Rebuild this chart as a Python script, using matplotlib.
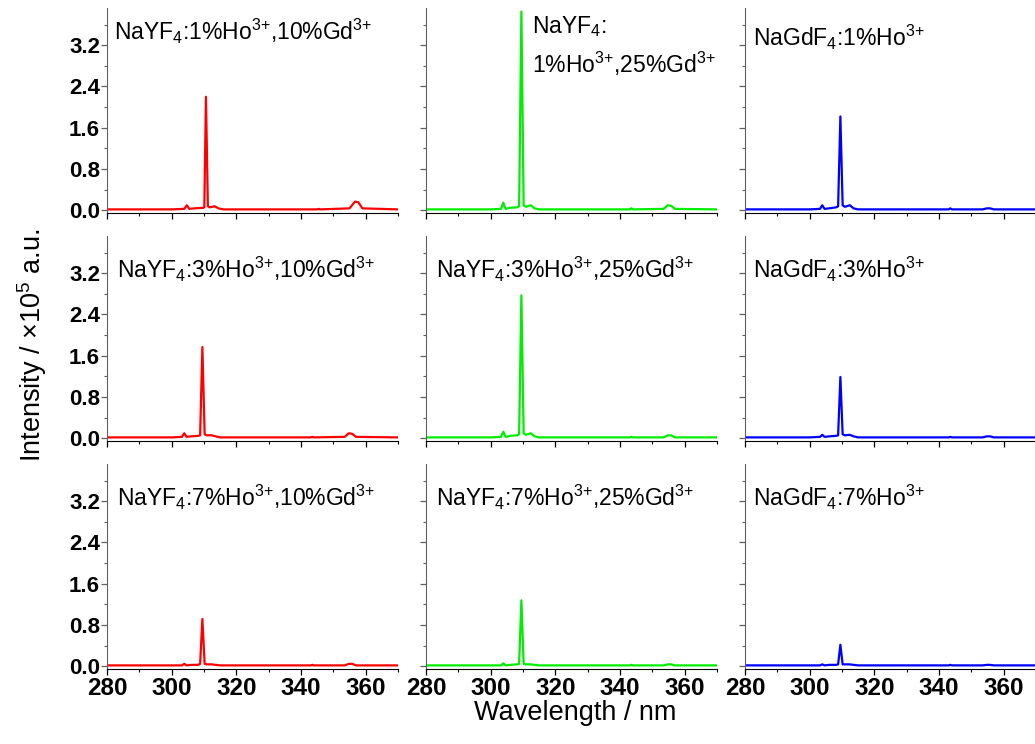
import matplotlib
matplotlib.use('Agg')
import matplotlib.pyplot as plt
from matplotlib.ticker import MultipleLocator, FormatStrFormatter

plt.rcParams['font.family'] = ['Liberation Sans', 'DejaVu Sans']
plt.rcParams['mathtext.fontset'] = 'custom'
plt.rcParams['mathtext.rm'] = 'Liberation Sans'
plt.rcParams['mathtext.it'] = 'Liberation Sans:italic'
plt.rcParams['mathtext.bf'] = 'Liberation Sans:bold'

# wavelength points (nm)
wl = [280, 300, 303.2, 303.9, 304.6, 306, 308.2, 308.8, 309.5, 310.2, 310.9,
      312.4, 313.6, 315, 330, 343, 343.5, 344, 353.5, 354.8, 355.8, 357, 370]
# first panel is slightly shifted
wl_a = [280, 300, 303.9, 304.7, 305.4, 307, 309.7, 310.1, 310.6, 311.2, 311.8,
        313.3, 314.5, 316, 330, 345, 345.5, 346, 355, 356.7, 357.7, 359, 370]

# intensities (x1e5 a.u.), rows = Ho 1/3/7 %, cols = 10%Gd, 25%Gd, NaGdF4
y_1_10 = [0.02, 0.02, 0.03, 0.10, 0.03, 0.04, 0.05, 0.06, 2.20, 0.08, 0.06,
          0.08, 0.04, 0.02, 0.02, 0.02, 0.03, 0.02, 0.04, 0.17, 0.16, 0.04, 0.02]
y_1_25 = [0.02, 0.02, 0.03, 0.15, 0.03, 0.05, 0.06, 0.08, 3.85, 0.10, 0.07,
          0.10, 0.04, 0.02, 0.02, 0.02, 0.04, 0.02, 0.03, 0.10, 0.09, 0.03, 0.02]
y_1_gd = [0.02, 0.02, 0.03, 0.10, 0.03, 0.04, 0.06, 0.08, 1.82, 0.10, 0.07,
          0.10, 0.04, 0.02, 0.02, 0.02, 0.04, 0.02, 0.02, 0.04, 0.04, 0.02, 0.02]
y_3_10 = [0.02, 0.02, 0.03, 0.10, 0.03, 0.04, 0.05, 0.06, 1.77, 0.08, 0.06,
          0.06, 0.04, 0.02, 0.02, 0.02, 0.03, 0.02, 0.03, 0.10, 0.09, 0.03, 0.02]
y_3_25 = [0.02, 0.02, 0.03, 0.13, 0.03, 0.05, 0.06, 0.08, 2.77, 0.10, 0.07,
          0.10, 0.04, 0.02, 0.02, 0.02, 0.03, 0.02, 0.02, 0.06, 0.06, 0.02, 0.02]
y_3_gd = [0.02, 0.02, 0.03, 0.07, 0.03, 0.04, 0.05, 0.06, 1.19, 0.08, 0.06,
          0.07, 0.04, 0.02, 0.02, 0.02, 0.03, 0.02, 0.02, 0.04, 0.04, 0.02, 0.02]
y_7_10 = [0.02, 0.02, 0.02, 0.05, 0.02, 0.03, 0.03, 0.05, 0.92, 0.05, 0.04,
          0.04, 0.03, 0.02, 0.02, 0.02, 0.03, 0.02, 0.02, 0.05, 0.05, 0.02, 0.02]
y_7_25 = [0.02, 0.02, 0.02, 0.06, 0.02, 0.03, 0.04, 0.05, 1.28, 0.05, 0.04,
          0.04, 0.03, 0.02, 0.02, 0.02, 0.03, 0.02, 0.02, 0.04, 0.04, 0.02, 0.02]
y_7_gd = [0.02, 0.02, 0.02, 0.04, 0.02, 0.03, 0.03, 0.04, 0.42, 0.04, 0.04,
          0.04, 0.03, 0.02, 0.02, 0.02, 0.03, 0.02, 0.02, 0.03, 0.03, 0.02, 0.02]

spectra = [[y_1_10, y_1_25, y_1_gd],
           [y_3_10, y_3_25, y_3_gd],
           [y_7_10, y_7_25, y_7_gd]]
colors = ['#ff0000', '#00ee00', '#0000ff']
ho = ['1', '3', '7']
SUP = r'$^{\text{3+}}$'

fig = plt.figure(figsize=(10.35, 7.44), dpi=100)
W, H = 1035.0, 744.0
lefts = [107, 426, 745]
bottoms = [213, 441, 669]
aw, ah = 291, 205
fs = 16.5

for r in range(3):
    for c in range(3):
        ax = fig.add_axes([lefts[c] / W, 1 - bottoms[r] / H, aw / W, ah / H])
        x = wl_a if (r == 0 and c == 0) else wl
        ax.plot(x, spectra[r][c], color=colors[c], lw=1.6)
        ax.set_xlim(280, 370)
        ax.set_ylim(-0.05, 3.92)
        ax.spines['top'].set_visible(False)
        ax.spines['right'].set_visible(False)
        ax.spines['left'].set_color('#606060')
        ax.xaxis.set_major_locator(MultipleLocator(20))
        ax.xaxis.set_minor_locator(MultipleLocator(10))
        ax.yaxis.set_major_locator(MultipleLocator(0.8))
        ax.yaxis.set_minor_locator(MultipleLocator(0.4))
        ax.yaxis.set_major_formatter(FormatStrFormatter('%.1f'))
        ax.tick_params(axis='both', which='major', direction='out', length=4, width=0.9)
        ax.tick_params(axis='both', which='minor', direction='out', length=2.2, width=0.8)
        ax.tick_params(axis='y', which='both', color='#606060', pad=1)
        ax.tick_params(axis='x', pad=2)
        if c != 0:
            ax.tick_params(axis='y', labelleft=False)
        if r != 2:
            ax.tick_params(axis='x', labelbottom=False)
        for lab in ax.get_yticklabels():
            lab.set_fontsize(16)
            lab.set_fontweight('bold')
        for lab in ax.get_xticklabels():
            lab.set_fontsize(17.5)
            lab.set_fontweight('bold')

        ty = 0.955 if r == 0 else 0.91
        if c == 0:
            ax.text(0.025 if r == 0 else 0.034, ty,
                    'NaYF$_4$:' + ho[r] + '%Ho' + SUP + ',10%Gd' + SUP,
                    transform=ax.transAxes, fontsize=fs, va='top', ha='left')
        elif c == 1:
            if r == 0:
                ax.text(0.364, 0.968, 'NaYF$_4$:', transform=ax.transAxes,
                        fontsize=fs, va='top', ha='left')
                ax.text(0.364, 0.795, '1%Ho' + SUP + ',25%Gd' + SUP,
                        transform=ax.transAxes, fontsize=fs, va='top', ha='left')
            else:
                ax.text(0.035, ty, 'NaYF$_4$:' + ho[r] + '%Ho' + SUP + ',25%Gd' + SUP,
                        transform=ax.transAxes, fontsize=fs, va='top', ha='left')
        else:
            ax.text(0.027, 0.925 if r == 0 else ty, 'NaGdF$_4$:' + ho[r] + '%Ho' + SUP,
                    transform=ax.transAxes, fontsize=fs, va='top', ha='left')

fig.text(575 / W, 1 - 713 / H, 'Wavelength / nm', fontsize=19.5, ha='center', va='center')
fig.text(32 / W, 1 - 345 / H, 'Intensity / ×10$^5$ a.u.', fontsize=19.5,
         ha='center', va='center', rotation=90)

fig.savefig('out.png', dpi=100)
